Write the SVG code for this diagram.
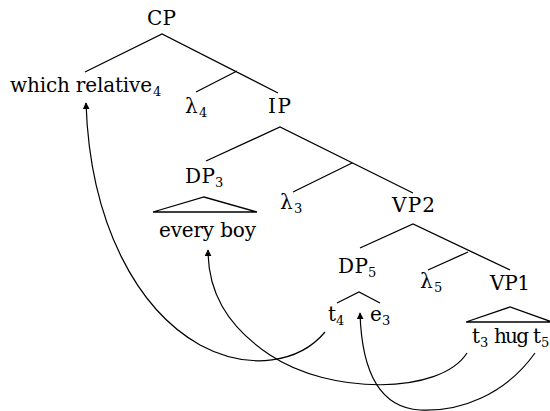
<svg xmlns="http://www.w3.org/2000/svg" width="550" height="411" viewBox="0 0 550 411">
<defs>
<marker id="ah" viewBox="0 0 10 10" refX="9" refY="5" markerWidth="7" markerHeight="7" markerUnits="userSpaceOnUse" orient="auto">
<path d="M0,0 L10,5 L0,10 z" fill="#000"/>
</marker>
<style>
.t{font-family:"DejaVu Serif",serif;font-size:20px;fill:#000}
.sub{font-size:13px}
.e{stroke:#000;stroke-width:1.3;fill:none}
.arc{stroke:#000;stroke-width:1.2;fill:none;marker-end:url(#ah)}
</style>
</defs>
<rect width="550" height="411" fill="#fff"/>
<g id="edges">
<path class="e" d="M85,72 L162,34 L278,93 M237,71 L196,92"/>
<path class="e" d="M206,161 L280,127 L413,193 M352,163 L293,192"/>
<path class="e" d="M360,248 L413,224 L510,270 M468,252 L428,270"/>
<path class="e" d="M153,212 L204,197 L257,212 Z"/>
<path class="e" d="M337,303 L359,292 L380,303"/>
<path class="e" d="M466,322 L510,307 L552,322 M466,322 L552,322"/>
</g>
<g id="connectors">
<path class="arc" d="M325,332 C300,362 250,372 200,345 C138,310 90,225 86,103"/>
<path class="arc" d="M467,353 C440,395 330,395 270,355 C225,325 208,290 208,250"/>
<path class="arc" d="M535,353 C505,395 460,412 420,410 C385,408 362,380 360,313"/>
</g>
<g class="t">
<g id="CP"><text class="t" x="147" y="25" textLength="29">CP</text></g>
<g id="which"><text class="t" x="10" y="92"><tspan textLength="142">which relative</tspan><tspan class="sub" x="153" dy="4">4</tspan></text></g>
<g id="lambda4"><text class="t" x="185" y="113">λ<tspan class="sub" x="199" dy="4">4</tspan></text></g>
<g id="IP"><text class="t" x="268" y="113" textLength="23">IP</text></g>
<g id="DP3"><text class="t" x="185" y="183"><tspan textLength="30">DP</tspan><tspan class="sub" x="215" dy="4">3</tspan></text></g>
<g id="everyboy"><text class="t" x="159" y="237" textLength="97">every boy</text></g>
<g id="lambda3"><text class="t" x="280" y="209">λ<tspan class="sub" x="294" dy="4">3</tspan></text></g>
<g id="VP2"><text class="t" x="392" y="212" textLength="43">VP2</text></g>
<g id="DP5"><text class="t" x="338" y="273"><tspan textLength="30">DP</tspan><tspan class="sub" x="368" dy="4">5</tspan></text></g>
<g id="lambda5"><text class="t" x="420" y="288">λ<tspan class="sub" x="434" dy="4">5</tspan></text></g>
<g id="VP1"><text class="t" x="490" y="290" textLength="40">VP1</text></g>
<g id="t4"><text class="t" x="328" y="321">t<tspan class="sub" x="336" dy="4">4</tspan></text></g>
<g id="e3"><text class="t" x="370" y="321">e<tspan class="sub" x="382" dy="4">3</tspan></text></g>
<g id="t3hugt5"><text class="t" x="472" y="343">t<tspan class="sub" x="480" dy="4">3</tspan><tspan x="494" dy="-4" textLength="35">hug</tspan><tspan x="533">t</tspan><tspan class="sub" x="541" dy="4">5</tspan></text></g>
</g>
</svg>
